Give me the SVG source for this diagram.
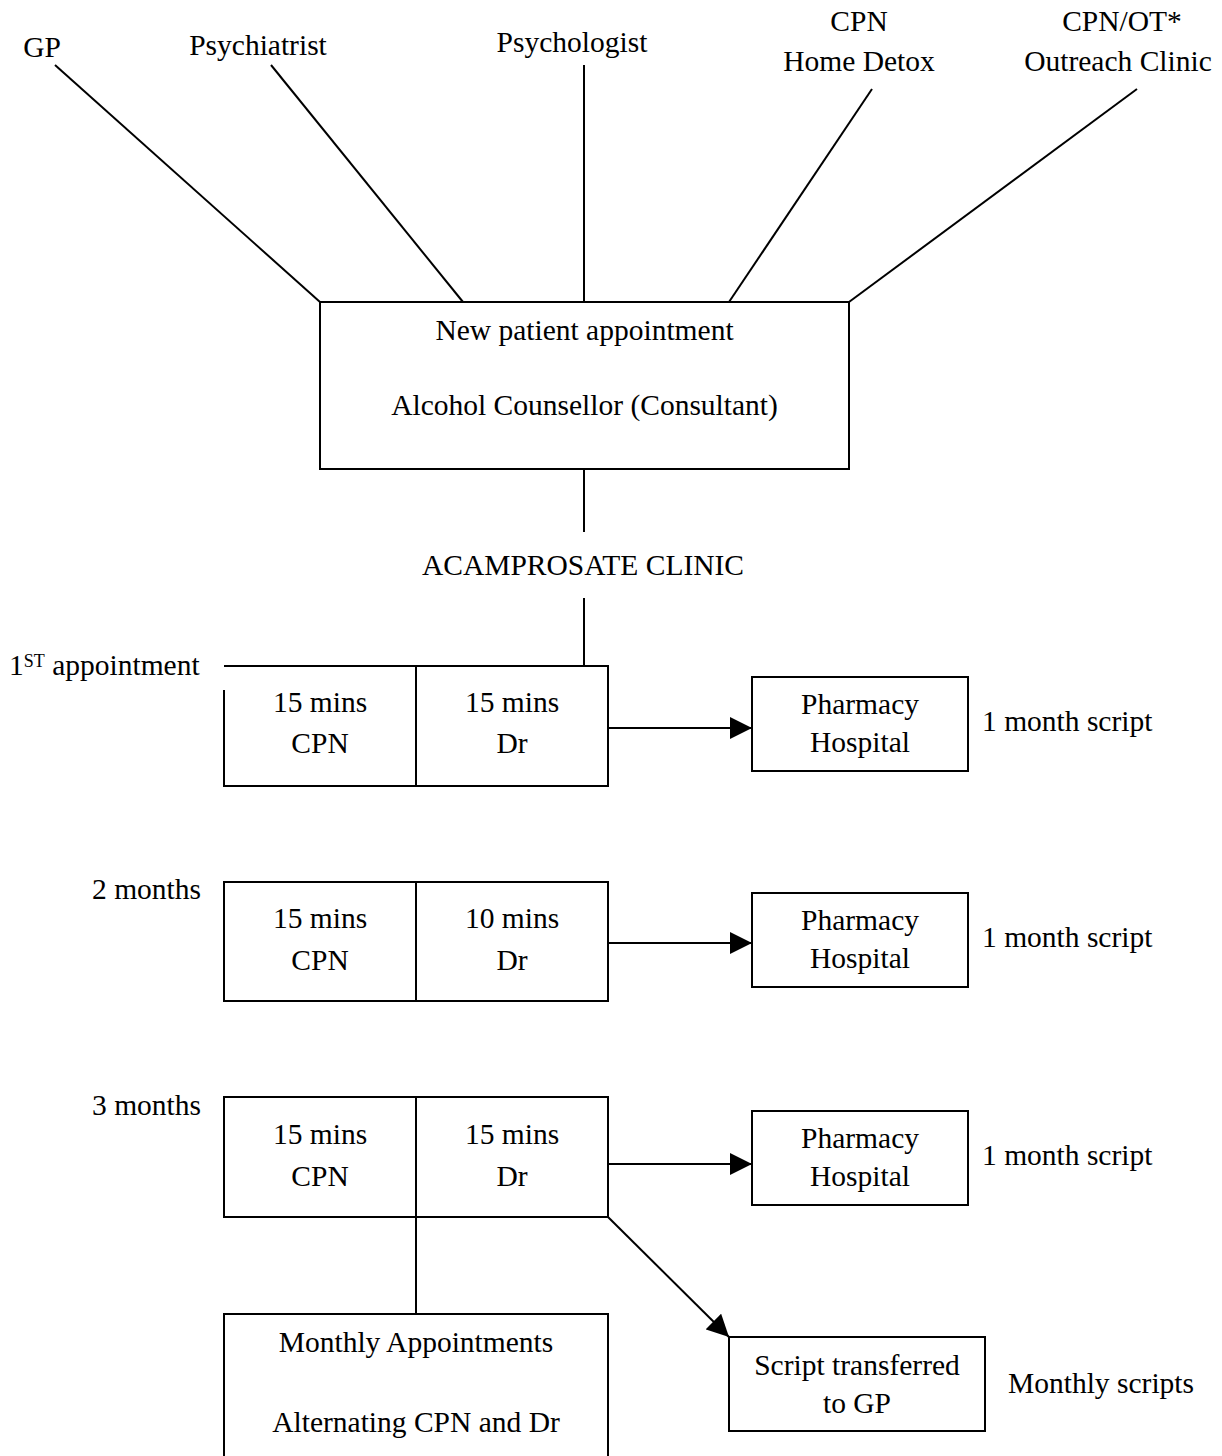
<svg xmlns="http://www.w3.org/2000/svg" width="1222" height="1456" viewBox="0 0 1222 1456">
  <style>
    text { font-family: "Liberation Serif", "Times New Roman", serif; font-size: 29.5px; fill: #000; }
    .c { text-anchor: middle; }
    .sup { font-size: 18px; }
    .box { fill: #fff; stroke: #000; stroke-width: 2; }
    .ln { fill: none; stroke: #000; stroke-width: 2; }
  </style>
  <defs>
    <marker id="arrow" viewBox="0 0 22 22" refX="22" refY="11" markerWidth="22" markerHeight="22" markerUnits="userSpaceOnUse" orient="auto">
      <path d="M0,0 L22,11 L0,22 Z" fill="#000"/>
    </marker>
  </defs>
  <rect width="1222" height="1456" fill="#fff"/>

  <!-- referral sources -->
  <g id="src-gp"><text class="c" x="42" y="57">GP</text></g>
  <g id="src-psychiatrist"><text class="c" x="258" y="55">Psychiatrist</text></g>
  <g id="src-psychologist"><text class="c" x="572" y="52">Psychologist</text></g>
  <g id="src-cpn"><text class="c" x="859" y="31">CPN</text><text class="c" x="859" y="71">Home Detox</text></g>
  <g id="src-outreach"><text class="c" x="1122" y="31">CPN/OT*</text><text class="c" x="1118" y="71">Outreach Clinic</text></g>

  <!-- connectors -->
  <g id="connectors">
    <line class="ln" x1="55" y1="65" x2="320" y2="302"/>
    <line class="ln" x1="271" y1="65" x2="463" y2="302"/>
    <line class="ln" x1="584" y1="65" x2="584" y2="302"/>
    <line class="ln" x1="872" y1="89" x2="729" y2="302"/>
    <line class="ln" x1="1137" y1="89" x2="849" y2="302"/>
    <line class="ln" x1="584" y1="469" x2="584" y2="532"/>
    <line class="ln" x1="584" y1="598" x2="584" y2="666"/>
    <line class="ln" x1="608" y1="728" x2="752" y2="728" marker-end="url(#arrow)"/>
    <line class="ln" x1="608" y1="943" x2="752" y2="943" marker-end="url(#arrow)"/>
    <line class="ln" x1="608" y1="1164" x2="752" y2="1164" marker-end="url(#arrow)"/>
    <line class="ln" x1="416" y1="1217" x2="416" y2="1314"/>
    <line class="ln" x1="608" y1="1217" x2="729" y2="1337" marker-end="url(#arrow)"/>
  </g>

  <!-- new patient appointment -->
  <g id="new-patient">
    <rect class="box" x="320" y="302" width="529" height="167"/>
    <text class="c" x="584.5" y="340">New patient appointment</text>
    <text class="c" x="584.5" y="415">Alcohol Counsellor (Consultant)</text>
  </g>

  <g id="clinic"><text class="c" x="583" y="575">ACAMPROSATE CLINIC</text></g>

  <!-- first appointment -->
  <g id="first-appt">
    <text x="9" y="675">1<tspan class="sup" dy="-8">ST</tspan><tspan dy="8"> appointment</tspan></text>
    <path class="ln" d="M224,666 H608 V786 H224 V690 M416,666 V786"/>
    <text class="c" x="320" y="712">15 mins</text>
    <text class="c" x="320" y="753">CPN</text>
    <text class="c" x="512" y="712">15 mins</text>
    <text class="c" x="512" y="753">Dr</text>
  </g>
  <g id="pharmacy-1">
    <rect class="box" x="752" y="677" width="216" height="94"/>
    <text class="c" x="860" y="714">Pharmacy</text>
    <text class="c" x="860" y="752">Hospital</text>
    <text x="982" y="731">1 month script</text>
  </g>

  <!-- two months -->
  <g id="second-appt">
    <text x="92" y="899">2 months</text>
    <rect class="box" x="224" y="882" width="384" height="119"/>
    <line class="ln" x1="416" y1="882" x2="416" y2="1001"/>
    <text class="c" x="320" y="928">15 mins</text>
    <text class="c" x="320" y="970">CPN</text>
    <text class="c" x="512" y="928">10 mins</text>
    <text class="c" x="512" y="970">Dr</text>
  </g>
  <g id="pharmacy-2">
    <rect class="box" x="752" y="893" width="216" height="94"/>
    <text class="c" x="860" y="930">Pharmacy</text>
    <text class="c" x="860" y="968">Hospital</text>
    <text x="982" y="947">1 month script</text>
  </g>

  <!-- three months -->
  <g id="third-appt">
    <text x="92" y="1115">3 months</text>
    <rect class="box" x="224" y="1097" width="384" height="120"/>
    <line class="ln" x1="416" y1="1097" x2="416" y2="1217"/>
    <text class="c" x="320" y="1144">15 mins</text>
    <text class="c" x="320" y="1186">CPN</text>
    <text class="c" x="512" y="1144">15 mins</text>
    <text class="c" x="512" y="1186">Dr</text>
  </g>
  <g id="pharmacy-3">
    <rect class="box" x="752" y="1111" width="216" height="94"/>
    <text class="c" x="860" y="1148">Pharmacy</text>
    <text class="c" x="860" y="1186">Hospital</text>
    <text x="982" y="1165">1 month script</text>
  </g>

  <!-- ongoing care -->
  <g id="monthly">
    <rect class="box" x="224" y="1314" width="384" height="160"/>
    <text class="c" x="416" y="1352">Monthly Appointments</text>
    <text class="c" x="416" y="1432">Alternating CPN and Dr</text>
  </g>
  <g id="gp-transfer">
    <rect class="box" x="729" y="1337" width="256" height="94"/>
    <text class="c" x="857" y="1375">Script transferred</text>
    <text class="c" x="857" y="1413">to GP</text>
    <text x="1008" y="1393">Monthly scripts</text>
  </g>
</svg>
